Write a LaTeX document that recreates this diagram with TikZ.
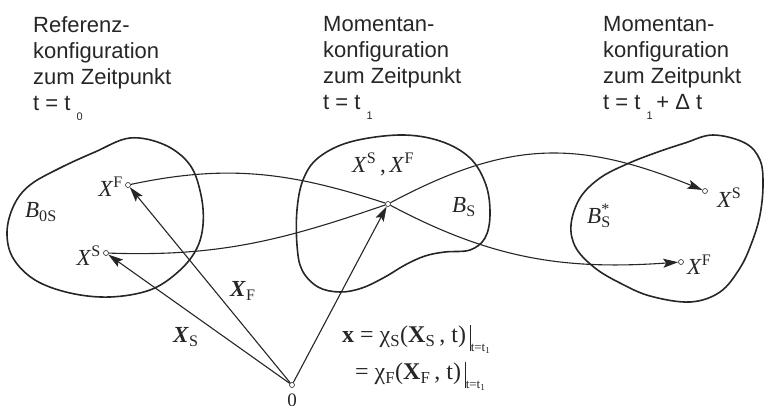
\documentclass[tikz,border=0pt]{standalone}
\usepackage{fontspec}
\setmainfont{Liberation Serif}
\newfontfamily\titlefont{Liberation Sans}
\usetikzlibrary{positioning,arrows.meta}

\begin{document}
\begin{tikzpicture}[
    x=1pt, y=-1pt,
    body/.style={draw=black!85, line width=1.6pt},
    pt/.style={circle,draw=black!85,fill=white,line width=0.6pt,inner sep=0pt,minimum size=5pt},
    vec/.style={draw=black!85, line width=1.1pt, -{Stealth[length=15pt,width=9pt,inset=3pt]}},
    trace/.style={draw=black!85, line width=1.1pt, -{Stealth[length=15pt,width=9pt,inset=3pt]}},
    title/.style={font=\titlefont\fontsize{22}{26}\selectfont,align=left,anchor=north west,inner sep=0pt,text=black!85},
    lbl/.style={font=\fontsize{23}{23}\selectfont,inner sep=0pt,text=black!85},
    eqn/.style={font=\fontsize{24}{24}\selectfont,inner sep=0pt,anchor=base west,text=black!85}
]
\useasboundingbox (0,0) rectangle (764,406);

% titles
\node[title] (ref)  at (33,16)  {Referenz-\\konfiguration\\zum Zeitpunkt\\t = t \raisebox{-10pt}{\fontsize{11}{11}\selectfont 0}};
\node[title] (mom1) at (323,16) {Momentan-\\konfiguration\\zum Zeitpunkt\\t = t \raisebox{-10pt}{\fontsize{11}{11}\selectfont 1}};
\node[title] (mom2) at (603,16) {Momentan-\\konfiguration\\zum Zeitpunkt\\t = t \raisebox{-10pt}{\fontsize{11}{11}\selectfont 1}\,+ Δ t};

% bodies
\draw[body] plot[smooth cycle,tension=0.6] coordinates {(130,138) (165,145) (190,165) (201,195) (203,225) (196,250) (178,272) (150,290) (110,297) (70,293) (35,280) (13,258) (7,232) (14,205) (30,185) (60,168) (95,152)};
\draw[body] plot[smooth cycle,tension=0.6] coordinates {(400,135) (440,141) (470,158) (486,185) (490,215) (485,238) (470,250) (445,252) (425,256) (405,265) (385,277) (362,288) (340,292) (318,287) (302,270) (297,245) (297,210) (303,180) (318,158) (350,142)};
\draw[body] plot[smooth cycle,tension=0.6] coordinates {(713,135) (745,143) (760,160) (763,185) (760,215) (752,242) (740,268) (720,292) (690,302) (650,296) (620,283) (595,268) (576,248) (571,225) (580,198) (600,178) (627,164) (655,153) (685,143)};

% material points
\node[pt] (XFa) at (128,185) {};
\node[pt] (XSa) at (106,253) {};
\node[pt] (M)   at (388,204) {};
\node[pt] (XSc) at (705,191) {};
\node[pt] (XFc) at (681,262) {};
\node[pt] (O)   at (292,385) {};

% position vectors
\draw[vec] (O) -- (XFa);
\draw[vec] (O) -- (XSa);
\draw[vec] (O) -- (M);

% motion of the points
\draw[trace] (XFa) to[out=12,in=162] (M) to[out=-28,in=184] (XFc);
\draw[trace] (XSa) to[out=-2,in=-161] (M) to[out=28,in=158,looseness=1.1] (XSc);

% labels
\node[lbl,anchor=base east] (XFalab) at (123,197) {\textit{X}\textsuperscript{F}};
\node[lbl,anchor=base east] (XSalab) at (101,266) {\textit{X}\textsuperscript{S}};
\node[lbl,anchor=base]      (Mlab)   at (383,173) {\textit{X}\textsuperscript{S}\,,\,\textit{X}\textsuperscript{F}};
\node[lbl,anchor=base west] (XSclab) at (717,208) {\textit{X}\textsuperscript{S}};
\node[lbl,anchor=base west] (XFclab) at (687,275) {\textit{X}\textsuperscript{F}};
\node[lbl,anchor=base west] (B0)  at (25,218)  {\textit{B}\textsubscript{0S}};
\node[lbl,anchor=base west] (B1)  at (452,213) {\textit{B}\textsubscript{S}};
\node[lbl,anchor=base west] (B2)  at (587,224) {\textit{B}\rlap{\textsuperscript{*}}\textsubscript{S}};
\node[lbl,anchor=base west] (vF)  at (230,297) {\textbf{\textit{X}}\textsubscript{F}};
\node[lbl,anchor=base west] (vS)  at (173,343) {\textbf{\textit{X}}\textsubscript{S}};
\node[lbl,font=\fontsize{19}{19}\selectfont,below=6pt of O] (Olab) {0};

% mapping
\node[eqn] (eq1) at (342,343) {\textbf{x} = χ\textsubscript{S}(\textbf{X}\textsubscript{S}\,, t)\,\rule[-8pt]{0.7pt}{26pt}\raisebox{-9pt}{\fontsize{13}{13}\selectfont t=t\textsubscript{1}}};
\node[eqn] (eq2) at (355,380) {= χ\textsubscript{F}(\textbf{X}\textsubscript{F}\,, t)\,\rule[-8pt]{0.7pt}{26pt}\raisebox{-9pt}{\fontsize{13}{13}\selectfont t=t\textsubscript{1}}};

\end{tikzpicture}
\end{document}
